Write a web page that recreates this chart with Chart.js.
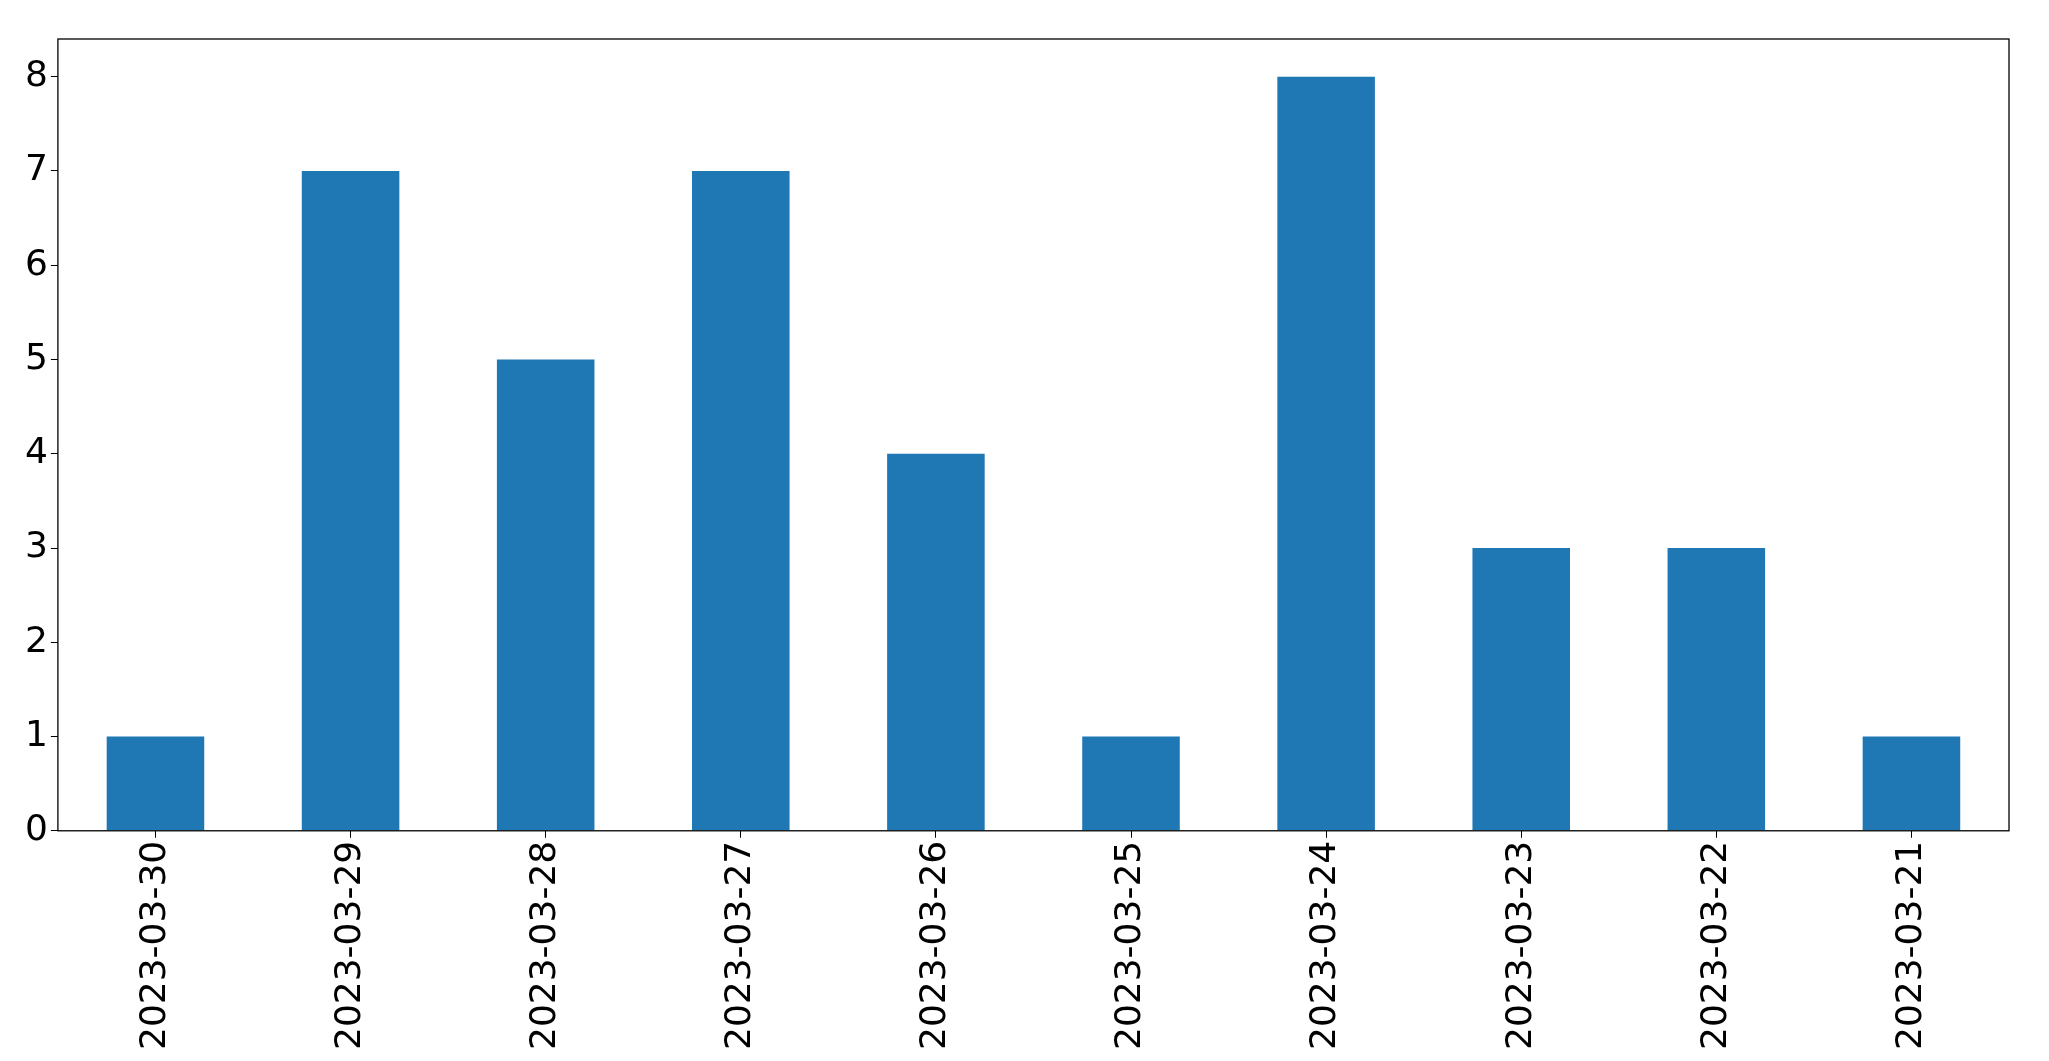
<!DOCTYPE html>
<html>
<head>
<script src="https://cdn.jsdelivr.net/npm/chart.js@4"></script>
<style>
  body { margin: 0; background: #fff; }
  #wrap { width: 2049px; height: 1061px; }
</style>
</head>
<body>
<div id="wrap"><canvas id="c"></canvas></div>
<script>
const dates = ["2023-03-30", "2023-03-29", "2023-03-28", "2023-03-27", "2023-03-26",
               "2023-03-25", "2023-03-24", "2023-03-23", "2023-03-22", "2023-03-21"];
const counts = [1, 7, 5, 7, 4, 1, 8, 3, 3, 1];
const yTicks = [0, 1, 2, 3, 4, 5, 6, 7, 8];

// draw the full axes box like matplotlib
const frame = {
  id: "frame",
  afterDraw(chart) {
    const a = chart.chartArea, ctx = chart.ctx;
    ctx.save();
    ctx.strokeStyle = "#000";
    ctx.lineWidth = 1.3;
    ctx.strokeRect(a.left, a.top, a.right - a.left, a.bottom - a.top);
    ctx.restore();
  }
};

new Chart(document.getElementById("c"), {
  type: "bar",
  data: {
    labels: dates,
    datasets: [{ data: counts, backgroundColor: "#1f77b4", barPercentage: 0.5, categoryPercentage: 1 }]
  },
  options: {
    responsive: true,
    maintainAspectRatio: false,
    animation: false,
    layout: { padding: { top: 39, right: 40, left: 22, bottom: 8 } },
    plugins: { legend: { display: false }, tooltip: { enabled: false } },
    scales: {
      x: {
        grid: { display: true, drawOnChartArea: false, drawTicks: true, tickLength: 7, tickColor: "#000", offset: false },
        border: { display: false },
        ticks: { color: "#000", maxRotation: 90, minRotation: 90, autoSkip: false,
                 font: { family: "DejaVu Sans", size: 36 } }
      },
      y: {
        min: 0, max: 8.4,
        afterBuildTicks: (s) => { s.ticks = yTicks.map(v => ({ value: v })); },
        grid: { display: true, drawOnChartArea: false, drawTicks: true, tickLength: 7, tickColor: "#000" },
        border: { display: false },
        ticks: { color: "#000", font: { family: "DejaVu Sans", size: 36 } }
      }
    }
  },
  plugins: [frame]
});
</script>
</body>
</html>
